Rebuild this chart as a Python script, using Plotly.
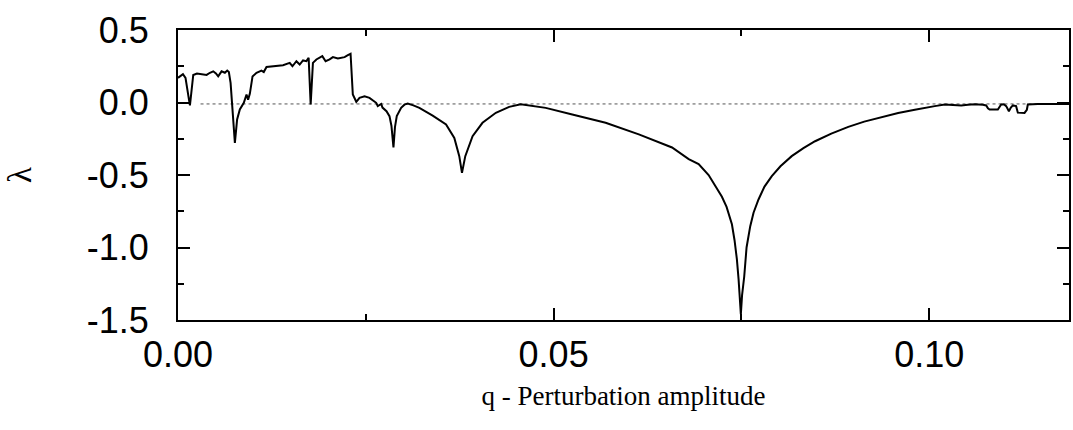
import plotly.graph_objects as go

# q - perturbation amplitude
q = [0.00000, 0.00027, 0.00066, 0.00100, 0.00126, 0.00146, 0.00159, 0.00179, 0.00203, 0.00252,
     0.00305, 0.00381, 0.00425, 0.00469, 0.00505, 0.00535, 0.00580, 0.00624, 0.00655, 0.00677,
     0.00700, 0.00726, 0.00757, 0.00787, 0.00823, 0.00876, 0.00912, 0.00933, 0.00956, 0.00992,
     0.01045, 0.01111, 0.01142, 0.01178, 0.01310, 0.01398, 0.01487, 0.01523, 0.01576, 0.01620,
     0.01664, 0.01709, 0.01739, 0.01766, 0.01796, 0.01842, 0.01921, 0.01965, 0.02018, 0.02062,
     0.02128, 0.02217, 0.02261, 0.02297, 0.02327, 0.02373, 0.02416, 0.02483, 0.02549, 0.02638,
     0.02659, 0.02705, 0.02722, 0.02775, 0.02815, 0.02841, 0.02868, 0.02888, 0.02912, 0.02970,
     0.03014, 0.03058, 0.03133, 0.03213, 0.03390, 0.03568, 0.03678, 0.03718, 0.03744, 0.03780,
     0.03797, 0.03824, 0.03921, 0.04053, 0.04231, 0.04408, 0.04563, 0.04696, 0.04895, 0.05248,
     0.05692, 0.06134, 0.06576, 0.06798, 0.06930, 0.07063, 0.07152, 0.07240, 0.07302, 0.07373,
     0.07408, 0.07439, 0.07462, 0.07481, 0.07492, 0.07508, 0.07537, 0.07568, 0.07617, 0.07661,
     0.07727, 0.07807, 0.07904, 0.08019, 0.08169, 0.08325, 0.08480, 0.08696, 0.08922, 0.09134,
     0.09364, 0.09586, 0.09808, 0.09931, 0.10073, 0.10206, 0.10316, 0.10426, 0.10515, 0.10604,
     0.10714, 0.10758, 0.10781, 0.10803, 0.10913, 0.10940, 0.10957, 0.10993, 0.11024, 0.11060,
     0.11086, 0.11113, 0.11156, 0.11179, 0.11268, 0.11299, 0.11312, 0.11445, 0.11644, 0.11860]

# lambda - Lyapunov exponent
lam = [0.170, 0.180, 0.195, 0.170, 0.100, 0.020, -0.020, 0.060, 0.190, 0.200,
       0.195, 0.190, 0.205, 0.215, 0.200, 0.180, 0.215, 0.205, 0.220, 0.210,
       0.135, -0.050, -0.278, -0.117, -0.048, -0.002, 0.055, 0.020, 0.060, 0.180,
       0.205, 0.220, 0.210, 0.245, 0.250, 0.257, 0.273, 0.250, 0.285, 0.262,
       0.290, 0.285, 0.308, -0.014, 0.273, 0.297, 0.320, 0.285, 0.297, 0.313,
       0.303, 0.313, 0.326, 0.336, 0.055, 0.005, 0.032, 0.043, 0.032, -0.002,
       -0.025, -0.010, -0.035, -0.060, -0.094, -0.160, -0.310, -0.170, -0.094, -0.037,
       -0.015, -0.007, -0.020, -0.037, -0.090, -0.152, -0.244, -0.310, -0.370, -0.485,
       -0.430, -0.370, -0.232, -0.140, -0.071, -0.030, -0.012, -0.020, -0.037, -0.083,
       -0.140, -0.220, -0.310, -0.390, -0.425, -0.500, -0.577, -0.650, -0.720, -0.840,
       -0.950, -1.080, -1.220, -1.380, -1.460, -1.330, -1.200, -1.000, -0.853, -0.760,
       -0.669, -0.580, -0.508, -0.440, -0.370, -0.315, -0.267, -0.215, -0.168, -0.132,
       -0.100, -0.072, -0.050, -0.037, -0.025, -0.014, -0.018, -0.020, -0.016, -0.012,
       -0.016, -0.020, -0.040, -0.048, -0.048, -0.030, -0.014, -0.012, -0.025, -0.060,
       -0.035, -0.020, -0.025, -0.070, -0.072, -0.050, -0.014, -0.010, -0.012, -0.010]

# zero reference (dotted)
ref_q = [0.003, 0.1186]
ref_lam = [-0.01, -0.01]

x_tickvals = [0.0, 0.05, 0.10]
x_ticktext = ["0.00", "0.05", "0.10"]
y_tickvals = [0.5, 0.0, -0.5, -1.0, -1.5]
y_ticktext = ["0.5", "0.0", "-0.5", "-1.0", "-1.5"]

fig = go.Figure()
fig.add_trace(go.Scatter(x=ref_q, y=ref_lam, mode="lines",
                         line=dict(color="#555555", width=1, dash="dot"),
                         showlegend=False, hoverinfo="skip"))
fig.add_trace(go.Scatter(x=q, y=lam, mode="lines",
                         line=dict(color="black", width=2),
                         showlegend=False))

axis_common = dict(
    showgrid=False, zeroline=False, showline=True, linecolor="black", linewidth=2,
    mirror="ticks", ticks="inside", ticklen=12, tickwidth=1.5, tickcolor="black",
    tickfont=dict(family="Liberation Sans, Arial, sans-serif", size=36, color="black"),
)

fig.update_xaxes(
    range=[0, 0.1186], tickmode="array", tickvals=x_tickvals, ticktext=x_ticktext,
    minor=dict(dtick=0.025, tick0=0, ticks="inside", ticklen=6, tickwidth=1.5, tickcolor="black", showgrid=False),
    title=dict(text="q - Perturbation amplitude",
               font=dict(family="Liberation Serif, Times New Roman, serif", size=27, color="black"),
               standoff=12),
    ticklabelstandoff=2,
    **axis_common,
)
fig.update_yaxes(
    range=[-1.5, 0.5], tickmode="array", tickvals=y_tickvals, ticktext=y_ticktext,
    minor=dict(dtick=0.25, tick0=0, ticks="inside", ticklen=6, tickwidth=1.5, tickcolor="black", showgrid=False),
    title=dict(text="λ",
               font=dict(family="Liberation Serif, Times New Roman, serif", size=33, color="black"),
               standoff=45),
    ticklabelstandoff=20,
    **axis_common,
)

fig.update_layout(
    width=1073, height=430,
    margin=dict(l=178, r=2, t=30, b=110),
    paper_bgcolor="white", plot_bgcolor="white",
)

fig.write_html("out.html")
